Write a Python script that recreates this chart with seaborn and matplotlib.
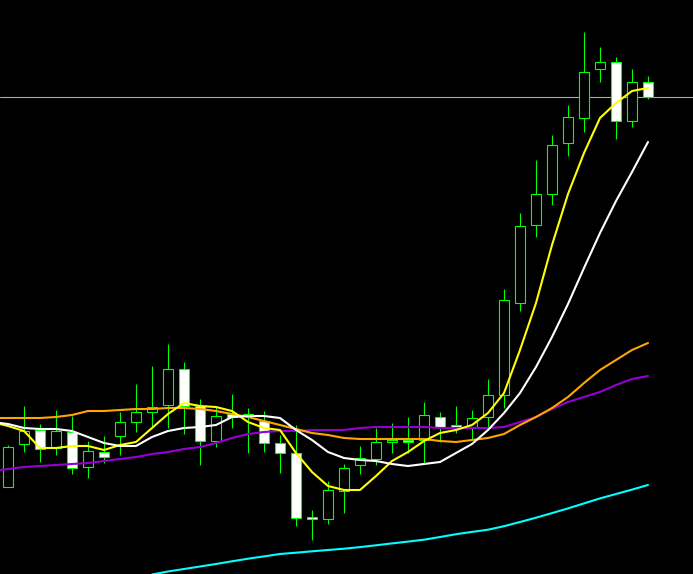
import numpy as np
import pandas as pd
import matplotlib
matplotlib.use("Agg")
import matplotlib.pyplot as plt
import seaborn as sns

# velas (precio en unidades del grafico)
open_ = [87, 130, 144, 126, 142, 107, 122, 138, 152, 162,
         169, 205, 168, 133, 160, 158, 153, 131, 121, 57,
         55, 83, 109, 115, 132, 134, 134, 157, 149, 147,
         157, 179, 271, 349, 380, 431, 456, 505, 512, 453, 492]
high = [129, 168, 150, 164, 158, 133, 138, 162, 190, 208,
        230, 212, 175, 167, 180, 166, 163, 139, 149, 64,
        93, 110, 128, 146, 151, 157, 172, 162, 168, 164,
        195, 285, 361, 414, 439, 469, 542, 527, 517, 505, 498]
low = [87, 122, 112, 119, 100, 96, 111, 119, 142, 146,
       146, 140, 109, 127, 146, 121, 122, 101, 48, 34,
       50, 61, 100, 109, 121, 121, 111, 132, 141, 134,
       146, 166, 263, 337, 369, 418, 442, 492, 435, 447, 475]
close = [127, 143, 125, 143, 106, 123, 117, 152, 162, 167,
         205, 168, 133, 158, 157, 160, 131, 121, 56, 55,
         84, 106, 116, 132, 134, 132, 159, 147, 147, 156,
         179, 274, 348, 380, 429, 457, 502, 512, 453, 492, 477]

# medias moviles (empiezan una barra antes de la primera vela)
ma5 = [152, 148, 143, 126, 126, 128, 128, 124, 129, 132,
       146, 160, 171, 168, 167, 163, 152, 146, 144, 121,
       102, 88, 84, 84, 98, 113, 122, 133, 141, 144,
       149, 161, 181, 224, 271, 329, 380, 421, 456, 471, 483, 486]
ma10 = [152, 150, 146, 145, 145, 143, 137, 131, 128, 128,
        137, 143, 146, 147, 149, 157, 158, 158, 156, 144,
        134, 122, 116, 114, 113, 110, 108, 110, 112, 121,
        130, 144, 161, 181, 207, 237, 270, 306, 341, 373, 402, 432]
ma30 = [156, 156, 156, 156, 157, 159, 163, 163, 164, 165,
        165, 166, 166, 165, 163, 160, 157, 153, 149, 145,
        141, 139, 136, 135, 135, 135, 135, 135, 133, 132,
        134, 136, 140, 149, 157, 166, 177, 191, 204, 214, 224, 231]
ma60 = [103, 105, 107, 108, 109, 110, 111, 113, 115, 117,
        120, 122, 125, 127, 131, 136, 140, 142, 143, 143,
        144, 144, 144, 146, 147, 147, 147, 147, 146, 146,
        146, 146, 147, 152, 157, 165, 172, 177, 182, 189, 195, 198]
# media larga: visible desde la barra 9
ma_larga = [-0.5, 2.5, 5.0, 7.5, 10.0, 12.7, 15.3, 17.6, 20.0, 21.3,
            22.7, 24.0, 25.3, 26.9, 28.7, 30.6, 32.4, 34.3, 37.0, 39.8,
            42.1, 44.3, 47.8, 52.0, 56.3, 60.9, 65.6, 70.6, 75.6, 80.0, 84.4, 89.0]

sns.set_theme(style="dark", rc={"axes.facecolor": "black", "figure.facecolor": "black"})

fig = plt.figure(figsize=(6.93, 5.74), dpi=100)
ax = fig.add_axes([0, 0, 1, 1])

x = np.arange(len(close))
o = np.array(open_)
c = np.array(close)
sube = c >= o

# linea del ultimo precio
ax.axhline(close[-1], color="#a9a9a9", lw=0.8, zorder=0.5)

# mechas y cuerpos
ax.vlines(x, low, high, color="#00ff00", lw=0.8, zorder=1)
ax.bar(x, np.maximum(np.abs(c - o), 1), bottom=np.minimum(o, c), width=0.625,
       color=np.where(sube, "black", "white"), edgecolor="#00ff00", linewidth=0.8, zorder=2)

# medias moviles
xm = np.arange(-1, len(close))
df = pd.DataFrame({"barra": xm, "MA60": ma60, "MA30": ma30, "MA5": ma5, "MA10": ma10})
largo = df.melt(id_vars="barra", var_name="media", value_name="valor")
larga = pd.DataFrame({"barra": np.arange(9, len(close)), "media": "MA120", "valor": ma_larga})
largo = pd.concat([larga, largo], ignore_index=True)

colores = {"MA120": "#00ffff", "MA60": "#9400d3", "MA30": "#ffa500", "MA5": "#ffff00", "MA10": "#ffffff"}
sns.lineplot(data=largo, x="barra", y="valor", hue="media",
             hue_order=["MA120", "MA60", "MA30", "MA5", "MA10"],
             palette=colores, legend=False, lw=1.5, ax=ax, zorder=3)

ax.set_xlim(-0.5, -0.5 + 693 / 16)
ax.set_ylim(0, 574)
ax.set_axis_off()

fig.savefig("out.png", dpi=100, facecolor="black")
